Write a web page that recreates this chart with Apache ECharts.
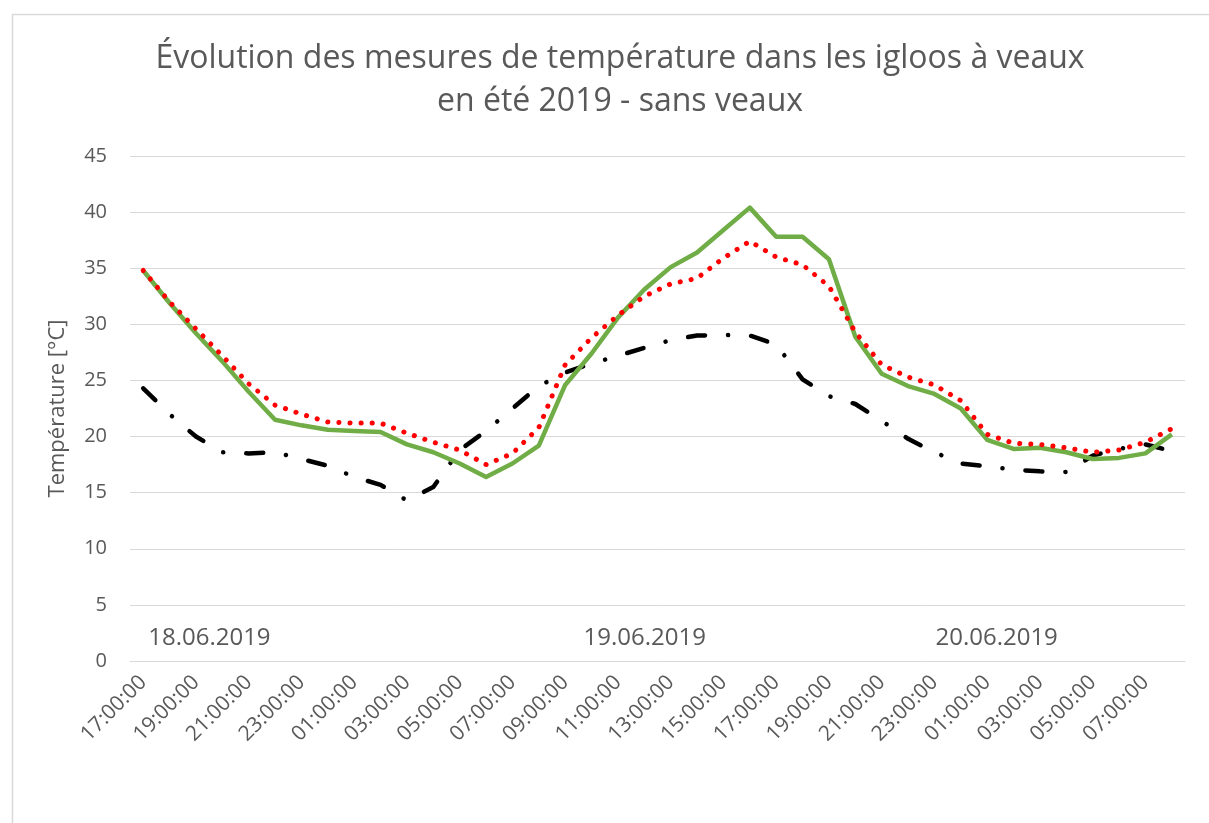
<!DOCTYPE html>
<html>
<head>
<meta charset="utf-8">
<script src="https://cdn.jsdelivr.net/npm/echarts@6/dist/echarts.min.js"></script>
<style>html,body{margin:0;padding:0;background:#fff;}#c{width:1209px;height:823px;}</style>
</head>
<body>
<div id="c"></div>
<script>
const titleText = "Évolution des mesures de température dans les igloos à veaux\nen été 2019 - sans veaux";
const yAxisTitle = "Température [°C]";
const categories = [
  "17:00:00","18:00:00","19:00:00","20:00:00","21:00:00","22:00:00","23:00:00",
  "00:00:00","01:00:00","02:00:00","03:00:00","04:00:00","05:00:00","06:00:00","07:00:00","08:00:00",
  "09:00:00","10:00:00","11:00:00","12:00:00","13:00:00","14:00:00","15:00:00","16:00:00",
  "17:00:00","18:00:00","19:00:00","20:00:00","21:00:00","22:00:00","23:00:00",
  "00:00:00","01:00:00","02:00:00","03:00:00","04:00:00","05:00:00","06:00:00","07:00:00","08:00:00"
];
const dateLabels = ["18.06.2019", "19.06.2019", "20.06.2019"];
const dateLabelCategoryIndex = [0, 17, 30];
const igloo1 = [34.8,31.9,29.2,26.7,24.0,21.5,21.0,20.6,20.5,20.4,19.3,18.6,17.6,16.4,17.6,19.2,
  24.6,27.4,30.6,33.1,35.1,36.4,38.4,40.4,37.8,37.8,35.8,28.9,25.6,24.5,23.8,22.5,19.7,18.9,19.0,18.6,18.0,18.1,18.5,20.2];
const igloo2 = [34.8,32.0,29.6,27.2,24.7,22.8,22.0,21.3,21.2,21.2,20.3,19.5,18.8,17.5,18.5,20.8,
  26.4,28.8,30.8,32.5,33.6,34.1,35.9,37.4,36.0,35.3,33.4,29.3,26.4,25.3,24.6,23.2,20.2,19.4,19.3,19.0,18.6,18.8,19.5,20.7];
const exterieur = [24.3,22.0,20.0,18.6,18.5,18.6,18.0,17.4,16.4,15.7,14.3,15.5,18.8,20.5,22.5,24.5,
  25.7,26.5,27.2,27.9,28.6,29.0,29.05,29.0,28.2,25.1,23.6,22.9,21.4,19.8,18.6,17.6,17.35,17.05,16.9,16.85,18.3,18.9,19.3,18.7];
const yMin = 0, yMax = 45, yInterval = 5;

const FONT = "Open Sans";
const GRAY = "#595959";
const chart = echarts.init(document.getElementById('c'), null, {renderer: 'canvas'});

const option = {
  backgroundColor: '#ffffff',
  animation: false,
  textStyle: {fontFamily: FONT, color: GRAY},
  title: {
    text: titleText,
    left: 615, textAlign: 'center', top: 32,
    textStyle: {fontFamily: FONT, fontSize: 32, fontWeight: 'normal', color: GRAY, lineHeight: 43}
  },
  grid: {left: 130, right: 24, top: 156, bottom: 162},
  xAxis: {
    type: 'category', data: categories, boundaryGap: true,
    axisLine: {show: true, lineStyle: {color: '#d9d9d9', width: 1}},
    axisTick: {show: false},
    axisLabel: {interval: 1, rotate: 45, margin: 18, fontFamily: FONT, fontSize: 21, color: GRAY}
  },
  yAxis: {
    type: 'value', min: yMin, max: yMax, interval: yInterval,
    name: yAxisTitle, nameLocation: 'middle', nameGap: 61, nameRotate: 90,
    nameTextStyle: {fontFamily: FONT, fontSize: 22, color: GRAY},
    axisLine: {show: false}, axisTick: {show: false},
    axisLabel: {margin: 23, fontFamily: FONT, fontSize: 20, color: GRAY},
    splitLine: {lineStyle: {color: '#d9d9d9', width: 1}}
  },
  series: [
    {name: 'Extérieur', type: 'line', data: exterieur, symbol: 'none', z: 3,
     lineStyle: {color: '#000000', width: 4.5, type: [17, 23, 0.1, 23], cap: 'round', join: 'round'}},
    {name: 'Igloo 1', type: 'line', data: igloo1, symbol: 'none', z: 4,
     lineStyle: {color: '#70AD47', width: 4.5, join: 'round'}},
    {name: 'Igloo 2', type: 'line', data: igloo2, symbol: 'none', z: 5,
     lineStyle: {color: '#FF0000', width: 5, type: [0.1, 11], cap: 'round'}}
  ],
  graphic: [
    {type: 'rect', left: 10, top: 12, silent: true, z: -10,
     shape: {x: 0, y: 0, width: 1300, height: 900},
     style: {fill: 'none', stroke: '#d9d9d9', lineWidth: 1.5}}
  ]
};
chart.setOption(option);

const dateOffsets = [5, -8, 1];
const dateGraphics = dateLabels.map((t, k) => {
  const px = chart.convertToPixel({xAxisIndex: 0}, dateLabelCategoryIndex[k]);
  const py = chart.convertToPixel({yAxisIndex: 0}, 2);
  return {type: 'text', x: px + dateOffsets[k], y: py, silent: true,
    style: {text: t, fontFamily: FONT, fontSize: 24, fill: GRAY, align: 'left', verticalAlign: 'middle'}};
});
chart.setOption({graphic: option.graphic.concat(dateGraphics)});
</script>
</body>
</html>
